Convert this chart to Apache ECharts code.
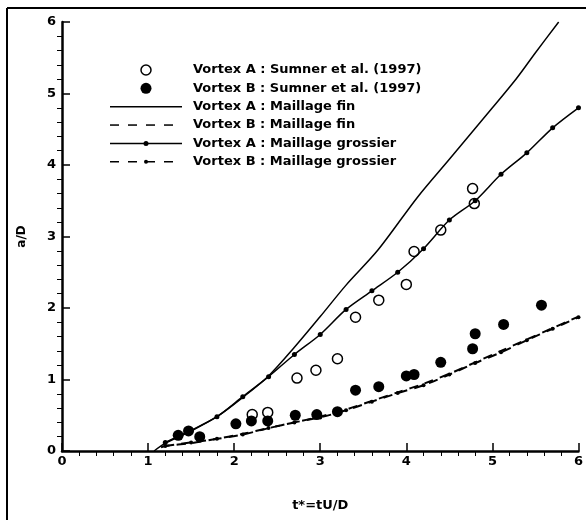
<!DOCTYPE html>
<html>
<head>
<meta charset="utf-8">
<script src="https://cdn.jsdelivr.net/npm/echarts@6/dist/echarts.min.js"></script>
<style>
html,body{margin:0;padding:0;background:#fff;}
#c{width:586px;height:520px;}
</style>
</head>
<body>
<div id="c"></div>
<script>
// Experimental data (Sumner et al. 1997)
var sumnerA = [[2.21,0.51],[2.39,0.54],[2.73,1.02],[2.95,1.13],[3.20,1.29],[3.41,1.87],[3.68,2.11],[4.00,2.33],[4.09,2.79],[4.40,3.09],[4.77,3.67],[4.79,3.46]];
var sumnerB = [[1.35,0.22],[1.47,0.28],[1.60,0.20],[2.02,0.38],[2.20,0.42],[2.39,0.42],[2.71,0.50],[2.96,0.51],[3.20,0.55],[3.41,0.85],[3.68,0.90],[4.00,1.05],[4.09,1.07],[4.40,1.24],[4.77,1.43],[4.80,1.64],[5.13,1.77],[5.57,2.04]];
// Fine mesh
var fineA = [[1.07,0.0],[1.2,0.11],[1.5,0.28],[1.8,0.48],[2.1,0.75],[2.4,1.05],[2.7,1.45],[3.0,1.88],[3.3,2.32],[3.67,2.81],[4.13,3.55],[4.5,4.08],[5.0,4.80],[5.28,5.21],[5.5,5.57],[5.77,6.0]];
var fineB = [[1.15,0.05],[1.2,0.07],[1.5,0.11],[1.8,0.17],[2.1,0.24],[2.4,0.32],[2.7,0.40],[3.0,0.48],[3.3,0.58],[3.6,0.70],[3.9,0.82],[4.2,0.94],[4.5,1.08],[4.8,1.24],[5.1,1.40],[5.4,1.56],[5.7,1.72],[6.0,1.88]];
// Coarse mesh
var coarseA = [[1.2,0.12],[1.5,0.29],[1.8,0.48],[2.1,0.76],[2.4,1.04],[2.7,1.35],[3.0,1.63],[3.3,1.98],[3.6,2.24],[3.9,2.50],[4.2,2.83],[4.5,3.23],[4.8,3.50],[5.1,3.87],[5.4,4.17],[5.7,4.52],[6.0,4.80]];
var coarseB = [[1.2,0.07],[1.5,0.12],[1.8,0.17],[2.1,0.23],[2.4,0.32],[2.7,0.40],[3.0,0.47],[3.3,0.57],[3.6,0.69],[3.9,0.81],[4.2,0.92],[4.5,1.07],[4.8,1.23],[5.1,1.38],[5.4,1.55],[5.7,1.71],[6.0,1.87]];

var names = ['Vortex A : Sumner et al. (1997)','Vortex B : Sumner et al. (1997)','Vortex A : Maillage fin','Vortex B : Maillage fin','Vortex A : Maillage grossier','Vortex B : Maillage grossier'];
var xTitle = 't*=tU/D', yTitle = 'a/D';

var FONT = 'DejaVu Sans';
function axis(name, gap, nameSize){
  return {
    type:'value', min:0, max:6, interval:1, name:name, nameLocation:'middle', nameGap:gap,
    nameTextStyle:{fontFamily:FONT, fontWeight:'bold', fontSize:nameSize, color:'#000'},
    axisLine:{show:true, onZero:false, lineStyle:{color:'#000', width:2.5}},
    axisTick:{show:true, inside:true, length:8, lineStyle:{color:'#000', width:1.5}},
    minorTick:{show:true, splitNumber:5, length:-5, lineStyle:{color:'#000', width:1}},
    axisLabel:{fontFamily:FONT, fontWeight:'bold', fontSize:13, color:'#000', margin:6},
    splitLine:{show:false}
  };
}
var chart = echarts.init(document.getElementById('c'), null, {renderer:'canvas'});
var xa = axis(xTitle, 48, 13);
var ya = axis(yTitle, 34, 12);
xa.axisLabel.margin = 4;

// manual legend
var LX1 = 110, LX2 = 182, LMX = 146, TX = 193, LY0 = 70, LDY = 18.35;
var legendG = [];
function rowY(i){ return LY0 + LDY*i; }
legendG.push({type:'circle', shape:{cx:LMX, cy:rowY(0), r:5}, style:{fill:'#fff', stroke:'#000', lineWidth:1.5}});
legendG.push({type:'circle', shape:{cx:LMX, cy:rowY(1), r:5.5}, style:{fill:'#000'}});
legendG.push({type:'line', shape:{x1:LX1, y1:rowY(2), x2:LX2, y2:rowY(2)}, style:{stroke:'#000', lineWidth:1.5}});
legendG.push({type:'line', shape:{x1:LX1, y1:rowY(3), x2:LX2, y2:rowY(3)}, style:{stroke:'#000', lineWidth:1.5, lineDash:[9,9]}});
legendG.push({type:'line', shape:{x1:LX1, y1:rowY(4), x2:LX2, y2:rowY(4)}, style:{stroke:'#000', lineWidth:1.5}});
legendG.push({type:'circle', shape:{cx:LMX, cy:rowY(4), r:2.5}, style:{fill:'#000'}});
legendG.push({type:'line', shape:{x1:LX1, y1:rowY(5), x2:LX2, y2:rowY(5)}, style:{stroke:'#000', lineWidth:1.5, lineDash:[9,9]}});
legendG.push({type:'circle', shape:{cx:LMX, cy:rowY(5), r:2}, style:{fill:'#000'}});
names.forEach(function(n, i){
  legendG.push({type:'text', x:TX, y:rowY(i), style:{text:n, fill:'#000', font:'bold 13px "DejaVu Sans"', textVerticalAlign:'middle', textAlign:'left'}});
});

chart.setOption({
  animation:false,
  backgroundColor:'#fff',
  grid:{left:62, right:4, top:22, bottom:69},
  xAxis:xa, yAxis:ya,
  graphic:[
    {type:'line', shape:{x1:7, y1:8, x2:586, y2:8}, style:{stroke:'#000', lineWidth:2}},
    {type:'line', shape:{x1:7, y1:8, x2:7, y2:520}, style:{stroke:'#000', lineWidth:2}}
  ].concat(legendG),
  series:[
    {name:names[0], type:'scatter', data:sumnerA, symbol:'circle', symbolSize:10,
     itemStyle:{color:'#fff', borderColor:'#000', borderWidth:1.5, opacity:1}},
    {name:names[1], type:'scatter', data:sumnerB, symbol:'circle', symbolSize:11,
     itemStyle:{color:'#000', opacity:1}},
    {name:names[2], type:'line', data:fineA, symbol:'none', smooth:0.3,
     lineStyle:{color:'#000', width:1.5}, itemStyle:{color:'#000'}},
    {name:names[3], type:'line', data:fineB, symbol:'none', smooth:0.3,
     lineStyle:{color:'#000', width:2, type:[9,7]}, itemStyle:{color:'#000'}},
    {name:names[4], type:'line', data:coarseA, symbol:'circle', symbolSize:5, smooth:0.3,
     lineStyle:{color:'#000', width:1.5}, itemStyle:{color:'#000'}},
    {name:names[5], type:'line', data:coarseB, symbol:'circle', symbolSize:4, smooth:0.3,
     lineStyle:{color:'#000', width:2, type:[9,7]}, itemStyle:{color:'#000'}}
  ]
});
</script>
</body>
</html>
